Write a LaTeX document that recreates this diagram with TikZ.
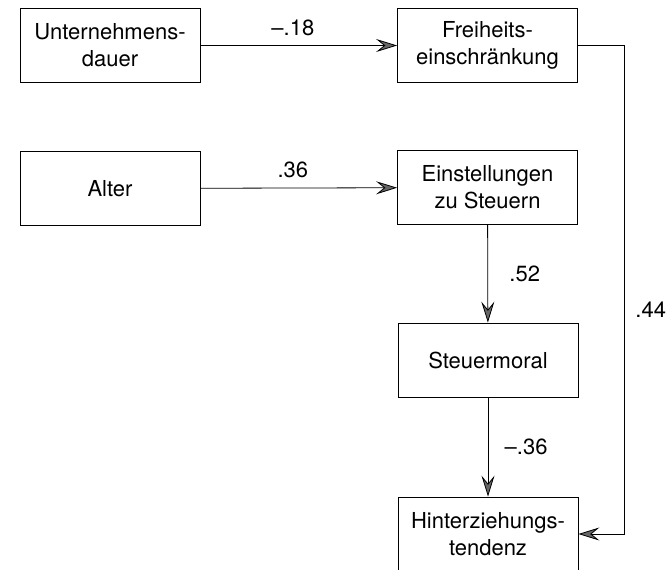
\documentclass[tikz,border=0pt]{standalone}
\usepackage{fontspec}
\setmainfont{TeX Gyre Heros}
\usetikzlibrary{arrows.meta}
\usetikzlibrary{positioning}

\begin{document}
\begin{tikzpicture}[x=1pt, y=-1pt,
    box/.style={draw, line width=0.8pt, minimum width=180pt, minimum height=74pt,
                inner sep=0pt, align=center, font=\fontsize{22}{27}\selectfont},
    pfeil/.style={line width=0.8pt, -{Stealth[length=21pt, width=13pt, inset=8pt, fill=black!60]}},
    wert/.style={font=\fontsize{22}{27}\selectfont}]
            \useasboundingbox (0,0) rectangle (670,570);
            % linke Spalte
            \node[box] (dauer) at (110,45.5) {Unternehmens-\\dauer};
            \node[box] (alter) at (110,188.5) {Alter};
            % rechte Spalte
            \node[box] (freiheit) at (487.5,45.5) {Freiheits-\\einschränkung};
            \node[box] (einst) at (487.5,187.5) {Einstellungen\\zu Steuern};
            \node[box] (moral) at (488,360) {Steuermoral};
            \node[box] (hinterz) at (488,534) {Hinterziehungs-\\tendenz};
            \coordinate (rechts) at (624,45.5);
            % Pfade
            \draw[pfeil] (dauer) -- (freiheit) node[wert, pos=0.47, above=6pt] {--.18};
            \draw[pfeil] (alter) -- (einst) node[wert, pos=0.47, above=6pt] {.36};
            \draw[pfeil] (einst) -- (moral) node[wert, midway, right=18pt] {.52};
            \draw[pfeil] (moral) -- (hinterz) node[wert, midway, right=13pt] {--.36};
            \draw[pfeil] (freiheit.east) -- (rechts) |- (hinterz.east) node[wert, pos=0.27, right=9pt, inner xsep=2pt] {.44};
        \end{tikzpicture}
\end{document}
